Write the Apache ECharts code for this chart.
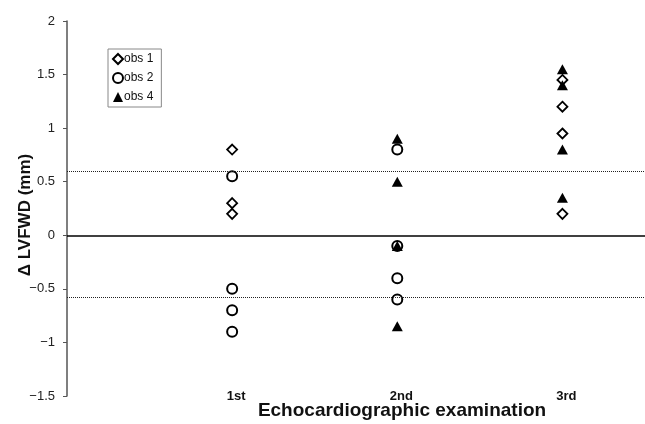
<!DOCTYPE html>
<html>
<head>
<meta charset="utf-8">
<script src="https://cdn.jsdelivr.net/npm/echarts@6/dist/echarts.min.js"></script>
<style>html,body{margin:0;padding:0;background:#fff}#c{width:645px;height:424px}</style>
</head>
<body>
<div id="c"></div>
<script>
const exams = ['1st', '2nd', '3rd'];
const obs1 = [[0.8, 0.3, 0.2], [], [1.45, 1.2, 0.95, 0.2]];
const obs2 = [[0.55, -0.5, -0.7, -0.9], [0.8, -0.1, -0.4, -0.6], []];
const obs4 = [[], [0.9, 0.5, -0.1, -0.85], [1.55, 1.4, 0.8, 0.35]];
const limits = [0.6, -0.58];
const seriesNames = ['obs 1', 'obs 2', 'obs 4'];
const xTitle = 'Echocardiographic examination';
const yTitle = '\u0394 LVFWD (mm)';

function toPoints(arr) {
  const pts = [];
  arr.forEach((vals, i) => vals.forEach(v => pts.push([i + 1, v])));
  return pts;
}

const chart = echarts.init(document.getElementById('c'));
const font = 'Liberation Sans, Arial, sans-serif';
chart.setOption({
  animation: false,
  grid: { left: 67, right: 0, top: 21, bottom: 28, containLabel: false, outerBoundsMode: 'none' },
  legend: {
    orient: 'vertical', left: 108, top: 49,
    data: seriesNames,
    borderColor: '#888', borderWidth: 1,
    padding: [4, 8, 4, 4], itemGap: 7, itemWidth: 10, itemHeight: 10,
    textStyle: { fontFamily: font, fontSize: 12, color: '#111', padding: [0, 0, 0, -4] }
  },
  graphic: [
    {
      type: 'text', silent: true,
      x: 402, y: 411,
      style: { text: xTitle, fontFamily: font, fontSize: 19, fontWeight: 'bold', fill: '#111', align: 'center', verticalAlign: 'middle' }
    },
    {
      type: 'text', silent: true,
      x: 25, y: 215, rotation: Math.PI / 2,
      style: { text: yTitle, fontFamily: font, fontSize: 17, fontWeight: 'bold', fill: '#111', align: 'center', verticalAlign: 'middle' }
    }
  ],
  xAxis: {
    type: 'value', min: 0, max: 3.5, interval: 1,
    axisLine: { show: false }, axisTick: { show: false }, splitLine: { show: false },
    axisLabel: {
      margin: 0, verticalAlign: 'middle', padding: [0, 0, 0, 8],
      fontFamily: font, fontSize: 13, fontWeight: 'bold', color: '#111',
      formatter: v => exams[v - 1] || ''
    }
  },
  yAxis: {
    type: 'value', min: -1.5, max: 2, interval: 0.5,
    axisLine: { show: true, lineStyle: { color: '#555', width: 1.5 } },
    axisTick: { show: true, length: 4, lineStyle: { color: '#555' } },
    splitLine: { show: false },
    axisLabel: { margin: 12, fontFamily: font, fontSize: 13, color: '#222',
      formatter: v => (v < 0 ? '\u2212' + Math.abs(v) : String(v)) }
  },
  series: [
    {
      name: 'obs 1', type: 'scatter', symbol: 'diamond', symbolSize: [10, 10],
      itemStyle: { color: '#fff', borderColor: '#000', borderWidth: 1.8, opacity: 1 },
      data: toPoints(obs1),
      markLine: {
        silent: true, symbol: 'none', label: { show: false },
        data: [
          { yAxis: 0, lineStyle: { type: 'solid', color: '#000', width: 1.5 } },
          { yAxis: limits[0], lineStyle: { type: 'dotted', color: '#222', width: 1 } },
          { yAxis: limits[1], lineStyle: { type: 'dotted', color: '#222', width: 1 } }
        ]
      }
    },
    {
      name: 'obs 2', type: 'scatter', symbol: 'circle', symbolSize: 10,
      itemStyle: { color: '#fff', borderColor: '#000', borderWidth: 2, opacity: 1 },
      data: toPoints(obs2)
    },
    {
      name: 'obs 4', type: 'scatter', symbol: 'triangle', symbolSize: [11, 10],
      itemStyle: { color: '#000', opacity: 1 },
      data: toPoints(obs4)
    }
  ]
});
</script>
</body>
</html>
